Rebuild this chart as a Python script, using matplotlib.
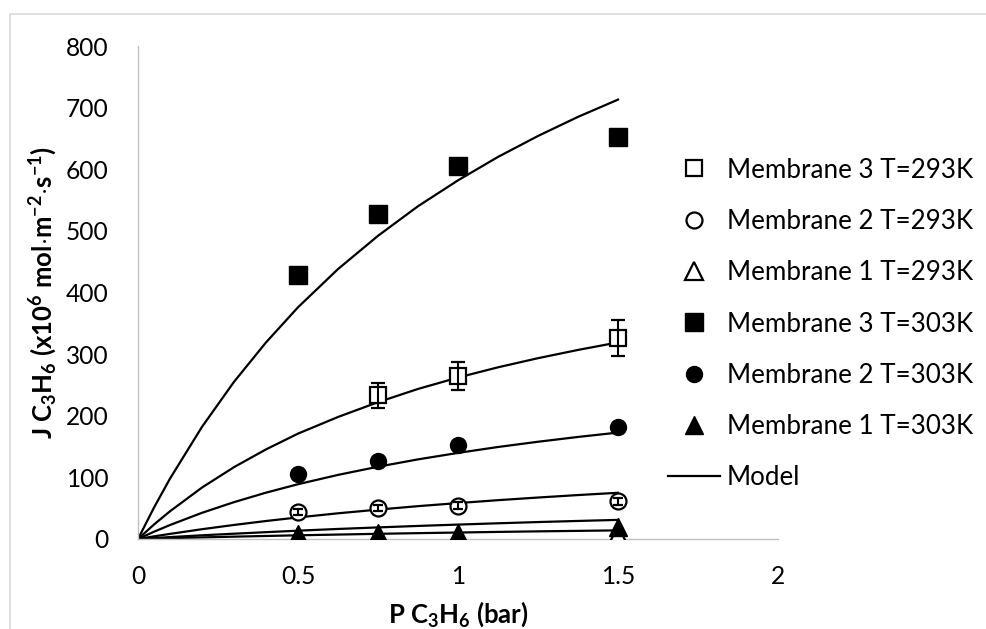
import matplotlib
matplotlib.use("Agg")
import matplotlib.pyplot as plt
from matplotlib.patches import Rectangle
from matplotlib.lines import Line2D

plt.rcParams['font.family'] = ['Lato', 'DejaVu Sans']
plt.rcParams['mathtext.fontset'] = 'custom'
plt.rcParams['mathtext.rm'] = 'Lato:bold'
plt.rcParams['mathtext.it'] = 'Lato:bold'
plt.rcParams['mathtext.bf'] = 'Lato:bold'
plt.rcParams['mathtext.default'] = 'rm'

# experimental points (pressure in bar)
p_m3_293 = [0.75, 1.0, 1.5]
j_m3_293 = [233, 264, 326]
e_m3_293 = [20, 23, 29]

p_exp = [0.5, 0.75, 1.0, 1.5]
j_m2_293 = [44, 50, 54, 61]
e_m2_293 = [5, 5, 6, 6]
j_m1_293 = [4, 4, 5, 6]
j_m3_303 = [428, 527, 605, 653]
j_m2_303 = [105, 126, 152, 181]
j_m1_303 = [8, 9, 9, 19]

# model curves
p_model = [0, 0.05, 0.1, 0.2, 0.3, 0.4, 0.5, 0.625, 0.75, 0.875, 1.0, 1.125, 1.25, 1.375, 1.5]
mod_m3_303 = [0, 51, 98, 182, 255, 319, 376, 438, 492, 540, 582, 620, 654, 685, 713]
mod_m3_293 = [0, 23.5, 45, 83.5, 116.6, 145.4, 171, 198, 222, 243.5, 262, 278.6, 293.4, 306.8, 319]
mod_m2_303 = [0, 11.8, 22.7, 42.5, 59.8, 75.2, 88.9, 104, 117.3, 129.2, 139.7, 149.3, 157.8, 165.6, 172.7]
mod_m2_293 = [0, 4.3, 8.3, 15.9, 22.8, 29.2, 35, 41.7, 47.7, 53.3, 58.3, 63, 67.3, 71.3, 75]
mod_m1_303 = [0, 1.6, 3.1, 6, 8.6, 11.1, 13.5, 16.3, 18.8, 21.2, 23.4, 25.5, 27.5, 29.3, 31]
mod_m1_293 = [0, 0.7, 1.4, 2.6, 3.8, 4.9, 6, 7.2, 8.4, 9.5, 10.5, 11.5, 12.4, 13.2, 14]

legend_labels = ['Membrane 3 T=293K', 'Membrane 2 T=293K', 'Membrane 1 T=293K',
                 'Membrane 3 T=303K', 'Membrane 2 T=303K', 'Membrane 1 T=303K', 'Model']

W, H = 987, 629
fig = plt.figure(figsize=(W / 100, H / 100), dpi=100)
ax = fig.add_axes([138/W, 1 - 539/H, 640/W, 493/H])
renderer = fig.canvas.get_renderer()


def fit_size(txt, target_px, **kw):
    t = fig.text(0, 0, txt, fontsize=14, **kw)
    w = t.get_window_extent(renderer).width
    t.remove()
    return 14 * target_px / w


tick_fs = fit_size('800', 43)
leg_fs = fit_size('Membrane 3 T=293K', 246)
lab_fs = fit_size(r'J C$_3$H$_6$ (x10$^6$ mol$\cdot$m$^{-2}$$\cdot$s$^{-1}$)', 295, fontweight='bold')

# outer chart frame
fig.patches.append(Rectangle((10/W, -0.1), 1.2, 1 - 14/H + 0.1, transform=fig.transFigure,
                             fill=False, edgecolor='#d9d9d9', linewidth=1.2))

k = 'black'
lw = 1.6
ms_s, ms_o, ms_t = 13, 11.5, 12.5
mew = 1.6

for m in [mod_m3_303, mod_m3_293, mod_m2_303, mod_m2_293, mod_m1_303, mod_m1_293]:
    ax.plot(p_model, m, color=k, lw=lw, zorder=2)

ax.errorbar(p_m3_293, j_m3_293, yerr=e_m3_293, fmt='s', color=k, mfc='white', mec=k, mew=mew,
            ms=ms_s - 1, capsize=4.7, elinewidth=1.5, capthick=1.5, barsabove=True, zorder=3)
ax.errorbar(p_exp, j_m2_293, yerr=e_m2_293, fmt='o', color=k, mfc='white', mec=k, mew=mew,
            ms=ms_o, capsize=3.5, elinewidth=1.5, capthick=1.5, barsabove=True, zorder=3)
ax.plot(p_exp, j_m1_293, '^', color=k, mfc='white', mec=k, mew=mew, ms=ms_t, zorder=3)
ax.plot(p_exp, j_m3_303, 's', color=k, ms=ms_s, zorder=4)
ax.plot(p_exp, j_m2_303, 'o', color=k, ms=ms_o, zorder=4)
ax.plot(p_exp, j_m1_303, '^', color=k, ms=ms_t, zorder=4)

ax.set_xlim(0, 2)
ax.set_ylim(0, 800)
ax.set_xticks([0, 0.5, 1, 1.5, 2])
ax.set_xticklabels(['0', '0.5', '1', '1.5', '2'])
ax.set_yticks(range(0, 801, 100))
ax.tick_params(axis='both', length=0, labelsize=tick_fs)
ax.tick_params(axis='x', pad=19)
ax.tick_params(axis='y', pad=21)
for s in ['top', 'right']:
    ax.spines[s].set_visible(False)
for s in ['left', 'bottom']:
    ax.spines[s].set_color('#bfbfbf')
    ax.spines[s].set_linewidth(1)

fig.text(458/W, 1 - 614/H, r'P C$_3$H$_6$ (bar)', ha='center', va='center',
         fontsize=lab_fs, fontweight='bold')
fig.text(43/W, 1 - 292/H, r'J C$_3$H$_6$ (x10$^6$ mol$\cdot$m$^{-2}$$\cdot$s$^{-1}$)',
         ha='center', va='center', rotation=90, fontsize=lab_fs, fontweight='bold')

handles = [
    Line2D([], [], ls='none', marker='s', color=k, mfc='white', mew=mew, ms=ms_s - 1),
    Line2D([], [], ls='none', marker='o', color=k, mfc='white', mew=mew, ms=ms_o),
    Line2D([], [], ls='none', marker='^', color=k, mfc='white', mew=mew, ms=ms_t),
    Line2D([], [], ls='none', marker='s', color=k, ms=ms_s),
    Line2D([], [], ls='none', marker='o', color=k, ms=ms_o),
    Line2D([], [], ls='none', marker='^', color=k, ms=ms_t),
    Line2D([], [], color=k, lw=lw),
]

fs_px = leg_fs * 100 / 72
spacing = 1.0
row_target = (478 - 170) / 6
for _ in range(4):
    leg = fig.legend(handles, legend_labels, loc='center left',
                     bbox_to_anchor=(668/W, 1 - 324/H), frameon=False, fontsize=leg_fs,
                     handlelength=52 / fs_px, handletextpad=7 / fs_px,
                     labelspacing=spacing, borderpad=0, borderaxespad=0)
    fig.canvas.draw()
    ys = [t.get_window_extent(renderer).y0 for t in leg.get_texts()]
    row = (ys[0] - ys[-2]) / 5
    spacing += (row_target - row) / fs_px
    leg.remove()

leg = fig.legend(handles, legend_labels, loc='center left',
                 bbox_to_anchor=(668/W, 1 - 324/H), frameon=False, fontsize=leg_fs,
                 handlelength=52 / fs_px, handletextpad=7 / fs_px,
                 labelspacing=spacing, borderpad=0, borderaxespad=0)

fig.savefig('out.png', dpi=100)
